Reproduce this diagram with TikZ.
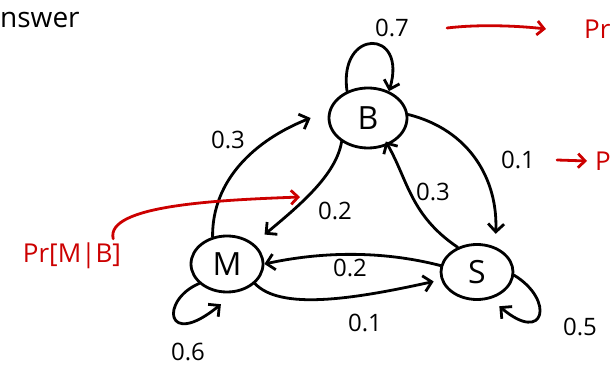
\documentclass[tikz,border=0pt]{standalone}
\usepackage{fontspec}
\setmainfont{Open Sans}
\usetikzlibrary{arrows.meta,shapes.geometric}
\definecolor{redink}{RGB}{204,0,0}
\begin{document}
\begin{tikzpicture}[x=1pt,y=-1pt,
  state/.style={ellipse, draw, line width=2.8pt, inner sep=0pt, font=\fontsize{32}{34}\selectfont},
  edge/.style={draw, line width=2.8pt, line cap=round, -{Straight Barb[length=8pt,width=16pt,line width=2.8pt]}},
  redarrow/.style={draw=redink, line width=2.8pt, line cap=round, -{Straight Barb[length=7pt,width=14pt,line width=2.8pt]}},
  lab/.style={font=\fontsize{24}{26}\selectfont, inner sep=0pt},
  redlab/.style={text=redink, font=\fontsize{26}{28}\selectfont, inner sep=0pt}]
\useasboundingbox (0,0) rectangle (611,371);
\clip (0,0) rectangle (611,371);
% states
\node[state, minimum width=78pt, minimum height=60pt] (B) at (368,118) {B};
\node[state, minimum width=72pt, minimum height=56pt] (M) at (227,264) {M};
\node[state, minimum width=72pt, minimum height=55pt] (S) at (477,272) {S};
% labels
\node[lab] (l07) at (392,28) {0.7};
\node[lab] (l03a) at (228,140) {0.3};
\node[lab] (l01a) at (518,160) {0.1};
\node[lab] (l03b) at (433,192) {0.3};
\node[lab] (l02a) at (335,211) {0.2};
\node[lab] (l02b) at (350,268) {0.2};
\node[lab] (l01b) at (365,323) {0.1};
\node[lab] (l06) at (188,352) {0.6};
\node[lab] (l05) at (580,327) {0.5};
\node[font=\fontsize{28}{30}\selectfont, inner sep=0pt, anchor=west] (ans) at (0,20) {nswer};
\node[redlab] (prmb) at (72,256) {Pr[M|B]};
\node[redlab, anchor=west] (prtop) at (584,29) {Pr};
\node[redlab, anchor=west] (prmid) at (595,161) {P};
% self loops
\draw[edge] (B.128) .. controls (338,28) and (408,28) .. (B.52);
\draw[edge] (M.215) .. controls (160,300) and (165,350) .. ([shift={(-2,11)}]M.262);
\draw[edge] (S.-5) .. controls (555,300) and (545,345) .. ([shift={(2,10)}]S.-50);
% transitions
\draw[edge] (M.118) .. controls (212,180) and (255,140) .. ([xshift=-17pt]B.west);
\draw[edge] (B.222) .. controls (336,175) and (300,205) .. ([shift={(12,-8)}]M.40);
\draw[edge] (B.5) .. controls (470,130) and (498,180) .. ([shift={(6,-11)}]S.65);
\draw[edge] (S.128) .. controls (410,215) and (408,180) .. ([shift={(4,-6)}]B.-65);
\draw[edge] (S.170) .. controls (380,250) and (320,252) .. (M.east);
\draw[edge] (M.-35) .. controls (280,310) and (350,300) .. ([xshift=-8pt]S.195);
% red annotations
\draw[redarrow] ([xshift=38pt]l07.east) .. controls (480,24) and (520,26) .. ([xshift=-38pt]prtop.west);
\draw[redarrow] ([xshift=22pt]l01a.east) -- ([xshift=-8pt]prmid.west);
\draw[redarrow] ([shift={(-8,-4)}]prmb.north east) .. controls (105,205) and (220,200) .. (300,197);
\end{tikzpicture}
\end{document}
